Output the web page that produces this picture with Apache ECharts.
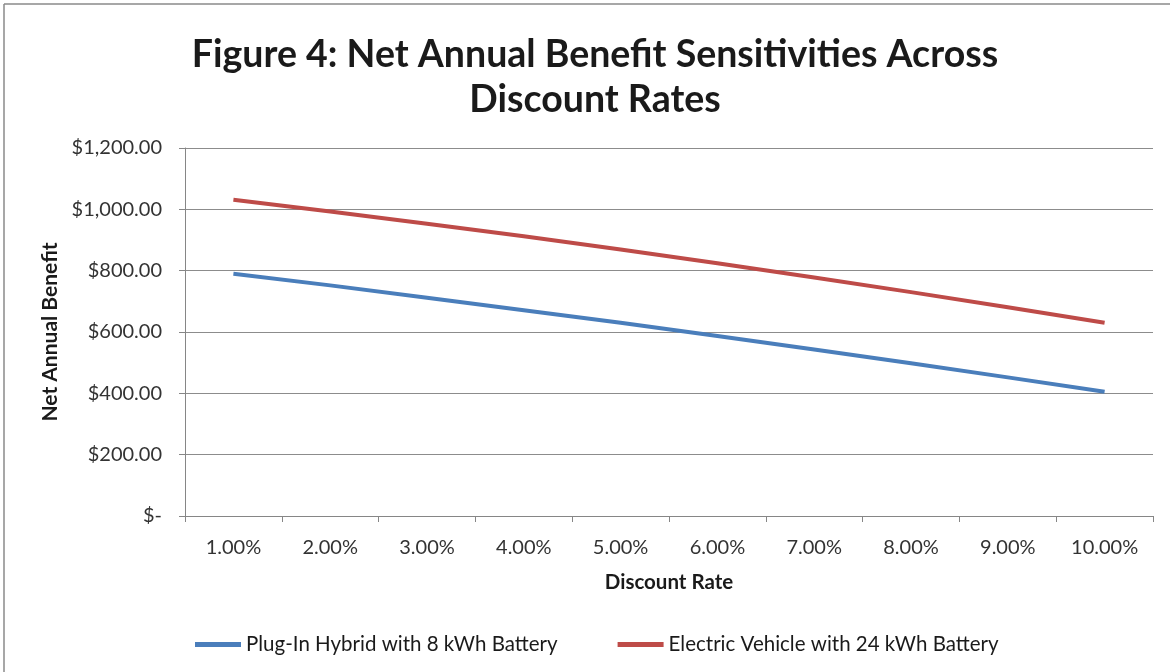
<!DOCTYPE html>
<html>
<head>
    <meta charset="UTF-8">
    <title>Net Annual Benefit Sensitivities</title>
    <script src="https://cdn.jsdelivr.net/npm/echarts@6/dist/echarts.min.js"></script>
    <style>
        html, body { margin: 0; padding: 0; background: #fff; }
    </style>
</head>
<body>
<div id="main" style="width: 1170px;height:672px;"></div>

<script type="text/javascript">
    // data
    var rates = ['1.00%', '2.00%', '3.00%', '4.00%', '5.00%', '6.00%', '7.00%', '8.00%', '9.00%', '10.00%'];
    var phev = [790, 752, 712, 671, 630, 587, 543, 498, 452, 405];
    var ev = [1031, 993, 953, 912, 869, 824, 778, 730, 681, 630];
    var seriesNames = ['Plug-In Hybrid with 8 kWh Battery', 'Electric Vehicle with 24 kWh Battery'];

    var font = 'Lato';
    var myChart = echarts.init(document.getElementById('main'));

    function money(v) {
        if (v === 0) return '$-';
        return '$' + v.toLocaleString('en-US', {minimumFractionDigits: 2, maximumFractionDigits: 2});
    }

    var option = {
        backgroundColor: '#fff',
        animation: false,
        title: {
            text: 'Figure 4: Net Annual Benefit Sensitivities Across\nDiscount Rates',
            left: 590,
            top: 27,
            textAlign: 'center',
            textStyle: {
                fontFamily: font,
                fontWeight: 'bold',
                fontSize: 37.5,
                lineHeight: 45,
                color: '#1a1a1a'
            }
        },
        legend: {
            data: seriesNames,
            top: 629,
            left: 190,
            itemWidth: 46,
            itemHeight: 5,
            itemGap: 60,
            icon: 'rect',
            textStyle: {fontFamily: font, fontSize: 20.5, color: '#1a1a1a'}
        },
        grid: {left: 185, right: 17, top: 148, bottom: 156},
        xAxis: {
            type: 'category',
            data: rates,
            boundaryGap: true,
            name: 'Discount Rate',
            nameLocation: 'middle',
            nameGap: 56,
            nameTextStyle: {fontFamily: font, fontWeight: 'bold', fontSize: 20.5, color: '#1a1a1a'},
            axisLine: {lineStyle: {color: '#868686', width: 1}},
            axisTick: {show: true, length: 6, lineStyle: {color: '#868686'}},
            axisLabel: {fontFamily: font, fontSize: 20, color: '#333', margin: 22}
        },
        yAxis: {
            type: 'value',
            min: 0,
            max: 1200,
            interval: 200,
            name: 'Net Annual Benefit',
            nameLocation: 'middle',
            nameGap: 121,
            nameRotate: 90,
            nameTextStyle: {fontFamily: font, fontWeight: 'bold', fontSize: 21, color: '#1a1a1a'},
            axisLine: {show: true, lineStyle: {color: '#868686', width: 1}},
            axisTick: {show: true, length: 6, inside: false, lineStyle: {color: '#868686'}},
            splitLine: {lineStyle: {color: '#8c8c8c', width: 1}},
            axisLabel: {fontFamily: font, fontSize: 20, color: '#333', margin: 23, formatter: money}
        },
        series: [
            {
                name: seriesNames[0],
                type: 'line',
                data: phev,
                symbol: 'none',
                color: '#4A7EBB',
                lineStyle: {width: 4, color: '#4A7EBB'}
            },
            {
                name: seriesNames[1],
                type: 'line',
                data: ev,
                symbol: 'none',
                color: '#BE4B48',
                lineStyle: {width: 4, color: '#BE4B48'}
            }
        ],
        graphic: [
            {type: 'line', shape: {x1: 4, y1: 4, x2: 1170, y2: 4}, style: {stroke: '#8a8a8a', lineWidth: 1.5}},
            {type: 'line', shape: {x1: 4, y1: 4, x2: 4, y2: 672}, style: {stroke: '#8a8a8a', lineWidth: 1.5}}
        ]
    };

    myChart.setOption(option);
</script>
</body>
</html>
